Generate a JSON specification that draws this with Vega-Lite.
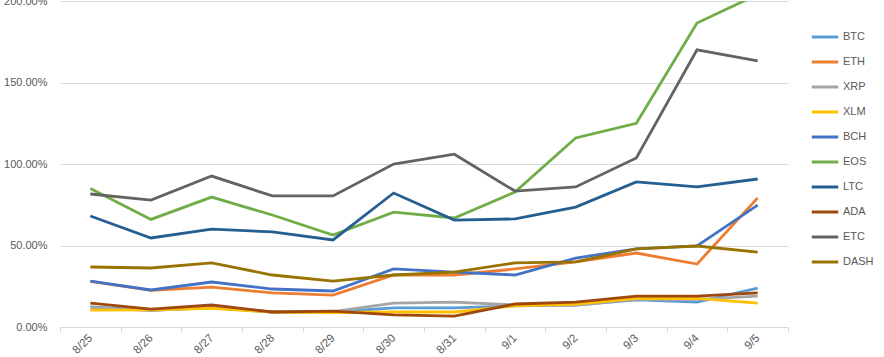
{
  "$schema": "https://vega.github.io/schema/vega-lite/v6.json",
  "width": 728,
  "height": 326,
  "autosize": {"type": "none"},
  "padding": {"left": 60, "top": 1, "right": 96, "bottom": 30},
  "background": "white",
  "config": {
    "view": {"stroke": null},
    "font": "Liberation Sans"
  },
  "data": {
    "values": [
      {"date": "8/25", "BTC": 0.123, "ETH": 0.28, "XRP": 0.12, "XLM": 0.104, "BCH": 0.282, "EOS": 0.85, "LTC": 0.681, "ADA": 0.147, "ETC": 0.816, "DASH": 0.368},
      {"date": "8/26", "BTC": 0.104, "ETH": 0.225, "XRP": 0.10, "XLM": 0.105, "BCH": 0.227, "EOS": 0.66, "LTC": 0.546, "ADA": 0.11, "ETC": 0.779, "DASH": 0.362},
      {"date": "8/27", "BTC": 0.117, "ETH": 0.245, "XRP": 0.12, "XLM": 0.115, "BCH": 0.276, "EOS": 0.797, "LTC": 0.601, "ADA": 0.135, "ETC": 0.926, "DASH": 0.393},
      {"date": "8/28", "BTC": 0.092, "ETH": 0.209, "XRP": 0.092, "XLM": 0.092, "BCH": 0.233, "EOS": 0.687, "LTC": 0.583, "ADA": 0.092, "ETC": 0.804, "DASH": 0.319},
      {"date": "8/29", "BTC": 0.092, "ETH": 0.196, "XRP": 0.095, "XLM": 0.089, "BCH": 0.221, "EOS": 0.564, "LTC": 0.534, "ADA": 0.098, "ETC": 0.804, "DASH": 0.282},
      {"date": "8/30", "BTC": 0.117, "ETH": 0.319, "XRP": 0.147, "XLM": 0.092, "BCH": 0.356, "EOS": 0.705, "LTC": 0.822, "ADA": 0.074, "ETC": 1.0, "DASH": 0.319},
      {"date": "8/31", "BTC": 0.117, "ETH": 0.319, "XRP": 0.153, "XLM": 0.092, "BCH": 0.337, "EOS": 0.669, "LTC": 0.656, "ADA": 0.067, "ETC": 1.06, "DASH": 0.337},
      {"date": "9/1", "BTC": 0.129, "ETH": 0.356, "XRP": 0.135, "XLM": 0.13, "BCH": 0.319, "EOS": 0.828, "LTC": 0.663, "ADA": 0.141, "ETC": 0.834, "DASH": 0.393},
      {"date": "9/2", "BTC": 0.135, "ETH": 0.40, "XRP": 0.135, "XLM": 0.14, "BCH": 0.423, "EOS": 1.16, "LTC": 0.736, "ADA": 0.153, "ETC": 0.859, "DASH": 0.399},
      {"date": "9/3", "BTC": 0.166, "ETH": 0.454, "XRP": 0.17, "XLM": 0.175, "BCH": 0.479, "EOS": 1.25, "LTC": 0.89, "ADA": 0.19, "ETC": 1.037, "DASH": 0.479},
      {"date": "9/4", "BTC": 0.153, "ETH": 0.386, "XRP": 0.17, "XLM": 0.175, "BCH": 0.497, "EOS": 1.865, "LTC": 0.86, "ADA": 0.19, "ETC": 1.70, "DASH": 0.497},
      {"date": "9/5", "BTC": 0.239, "ETH": 0.792, "XRP": 0.19, "XLM": 0.147, "BCH": 0.748, "EOS": 2.04, "LTC": 0.908, "ADA": 0.209, "ETC": 1.632, "DASH": 0.46}
    ]
  },
  "transform": [
    {"fold": ["BTC", "ETH", "XRP", "XLM", "BCH", "EOS", "LTC", "ADA", "ETC", "DASH"], "as": ["coin", "value"]}
  ],
  "mark": {"type": "line", "strokeWidth": 2.8, "clip": true, "strokeJoin": "miter"},
  "encoding": {
    "x": {
      "field": "date",
      "type": "ordinal",
      "sort": null,
      "bandPosition": 0.5,
      "scale": {"type": "band", "paddingInner": 0, "paddingOuter": 0},
      "axis": {
        "title": null,
        "tickBand": "extent",
        "labelAngle": -45,
        "labelAlign": "right",
        "labelBaseline": "middle",
        "labelFontSize": 11.5,
        "labelColor": "#595959",
        "labelPadding": 4,
        "domainColor": "#D9D9D9",
        "tickColor": "#D9D9D9",
        "tickSize": 5,
        "grid": false
      }
    },
    "y": {
      "field": "value",
      "type": "quantitative",
      "scale": {"domain": [0, 2], "nice": false},
      "axis": {
        "title": null,
        "format": ".2%",
        "values": [0, 0.5, 1, 1.5, 2],
        "labelFontSize": 11,
        "labelColor": "#595959",
        "labelPadding": 13,
        "ticks": false,
        "domain": false,
        "gridColor": "#D9D9D9",
        "gridWidth": 1
      }
    },
    "color": {
      "field": "coin",
      "type": "nominal",
      "scale": {
        "domain": ["BTC", "ETH", "XRP", "XLM", "BCH", "EOS", "LTC", "ADA", "ETC", "DASH"],
        "range": ["#5B9BD5", "#ED7D31", "#A5A5A5", "#FFC000", "#4472C4", "#70AD47", "#255E91", "#9E480E", "#636363", "#997300"]
      },
      "legend": {
        "title": null,
        "orient": "none",
        "legendX": 750,
        "legendY": 21,
        "symbolType": "stroke",
        "symbolSize": 700,
        "symbolStrokeWidth": 3,
        "labelFontSize": 11,
        "labelColor": "#595959",
        "labelOffset": 3,
        "rowPadding": 4,
        "padding": 0
      }
    }
  }
}
